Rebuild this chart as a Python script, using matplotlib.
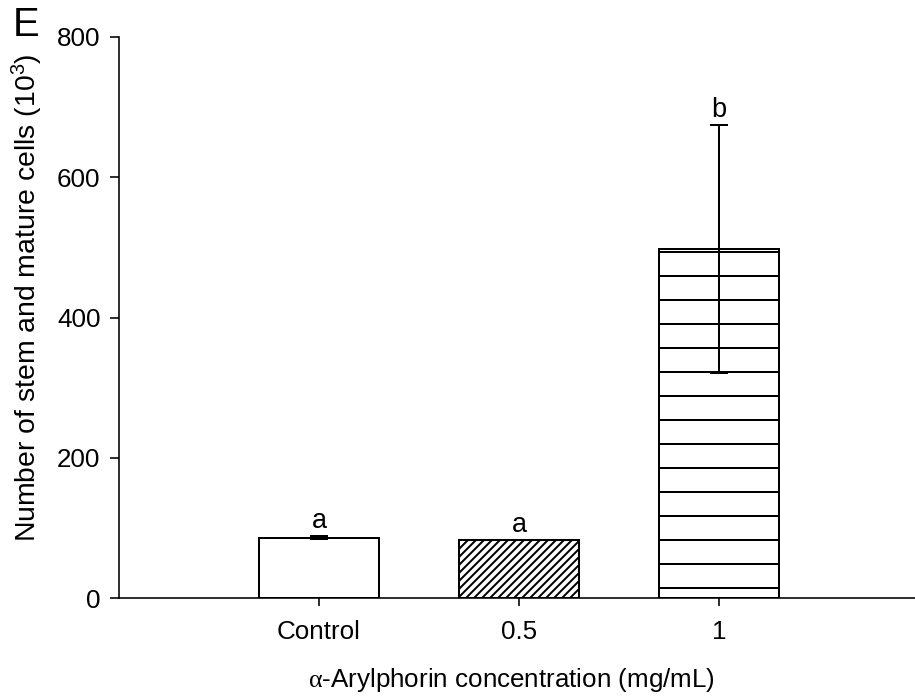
import matplotlib
matplotlib.use("Agg")
import matplotlib.pyplot as plt

# values (x10^3 cells)
groups = ["Control", "0.5", "1"]
means = [86, 82, 498]
errors = [2, 0, 177]
letters = ["a", "a", "b"]
hatches = ["", "//////", "-"]

plt.rcParams['font.family'] = ['Liberation Sans', 'DejaVu Sans']
plt.rcParams['mathtext.fontset'] = 'custom'
plt.rcParams['mathtext.rm'] = 'Liberation Sans'
plt.rcParams['mathtext.it'] = 'Liberation Sans:italic'
plt.rcParams['mathtext.sf'] = 'Liberation Serif'
plt.rcParams['hatch.linewidth'] = 1.0

# dpi 144 so the hatch spacing comes out like the original
fig = plt.figure(figsize=(915 / 144, 700 / 144), dpi=144)
ax = fig.add_axes([119 / 915, 102 / 700, 800 / 915, 561 / 700])

x = range(len(groups))
ax.bar(x, means, width=0.6, color="white", edgecolor="black", linewidth=1.0, hatch=hatches)
ax.errorbar(x, means, yerr=errors, fmt="none", ecolor="black", elinewidth=1.0,
            capsize=4.3, capthick=1.0)

#letters above each bar
for i in x:
    ax.annotate(letters[i], (i, means[i] + errors[i]), xytext=(0, 1), textcoords="offset points",
                ha="center", va="bottom", fontsize=13.5)

ax.set_xlim(-1, 3)
ax.set_ylim(0, 800)
ax.set_yticks([0, 200, 400, 600, 800])
ax.set_xticks(list(x))
ax.set_xticklabels(groups)

ax.spines['top'].set_visible(False)
ax.spines['right'].set_visible(False)
ax.spines['left'].set_linewidth(0.8)
ax.spines['bottom'].set_linewidth(0.8)
ax.tick_params(axis='y', direction='out', length=4.3, width=0.8, pad=5, labelsize=13)
ax.tick_params(axis='x', direction='out', length=4, width=0.8, pad=7, labelsize=13)

fig.text(27 / 915, 1 - 298 / 700, "Number of stem and mature cells (10$^3$)", rotation=90,
         ha="center", va="center", fontsize=14.2)
fig.text(511 / 915, 1 - 680 / 700, r"$\mathsf{\alpha}$-Arylphorin concentration (mg/mL)",
         ha="center", va="center", fontsize=13)
fig.text(13 / 915, 1 - 36 / 700, "E", ha="left", va="baseline", fontsize=20)

fig.savefig("out.png", dpi=144)
